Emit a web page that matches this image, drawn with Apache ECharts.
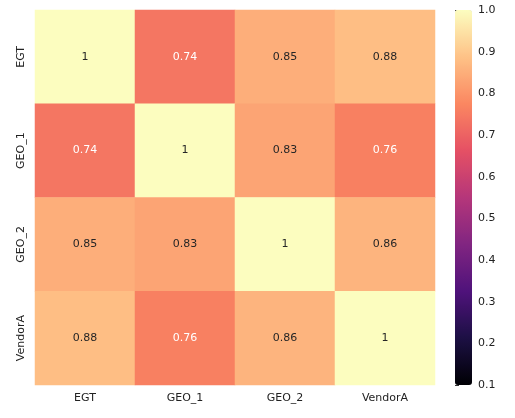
<!DOCTYPE html>
<html>
<head>
<meta charset="utf-8">
<script src="https://cdn.jsdelivr.net/npm/echarts@6/dist/echarts.min.js"></script>
<style>html,body{margin:0;padding:0;background:#fff}#c{width:515px;height:418px}</style>
</head>
<body>
<div id="c"></div>
<script>
var labels = ['EGT', 'GEO_1', 'GEO_2', 'VendorA']
var matrix = [
  [1, 0.74, 0.85, 0.88],
  [0.74, 1, 0.83, 0.76],
  [0.85, 0.83, 1, 0.86],
  [0.88, 0.76, 0.86, 1]
]
var barTicks = [0.1, 0.2, 0.3, 0.4, 0.5, 0.6, 0.7, 0.8, 0.9, 1.0]
var magma = ['#000004', '#1c1044', '#4f127b', '#812581', '#b5367a', '#e55064', '#fb8761', '#fec287', '#fcfdbf']

var cells = []
for (var i = 0; i < labels.length; i++) {
  for (var j = 0; j < labels.length; j++) {
    var v = matrix[i][j]
    cells.push({
      value: [j, i, v],
      label: { color: v < 0.8 ? '#ffffff' : '#262626' }
    })
  }
}

var font = 'DejaVu Sans'
var chart = echarts.init(document.getElementById('c'))
chart.setOption({
  animation: false,
  textStyle: { fontFamily: font },
  grid: [
    { left: 35, top: 10, width: 400, height: 375 },
    { left: 455, top: 10, width: 17, height: 375 }
  ],
  xAxis: [
    { type: 'category', data: labels, gridIndex: 0, axisLine: { show: false },
      axisTick: { length: 4, lineStyle: { color: '#333' }, alignWithLabel: true },
      axisLabel: { color: '#222', fontSize: 11, fontFamily: font, margin: 8 }, splitLine: { show: false } },
    { type: 'value', gridIndex: 1, show: false }
  ],
  yAxis: [
    { type: 'category', data: labels, inverse: true, gridIndex: 0, axisLine: { show: false },
      axisTick: { length: 4, lineStyle: { color: '#333' }, alignWithLabel: true },
      axisLabel: { color: '#222', fontSize: 11, fontFamily: font, rotate: 90, margin: 8 }, splitLine: { show: false } },
    { type: 'value', gridIndex: 1, position: 'right', min: 0.1, max: 1.0, interval: 0.1,
      axisLine: { show: false }, splitLine: { show: false },
      axisTick: { show: true, length: 4, lineStyle: { color: '#333' } },
      axisLabel: { color: '#222', fontSize: 11, fontFamily: font, margin: 6,
        formatter: function (v) { return v.toFixed(1) } } }
  ],
  visualMap: {
    type: 'continuous', min: 0.1, max: 1.0, seriesIndex: 0, calculable: false,
    left: 455, top: 10, itemWidth: 17, itemHeight: 375, padding: 0,
    text: null, showLabel: false, inRange: { color: magma }
  },
  series: [
    { type: 'heatmap', xAxisIndex: 0, yAxisIndex: 0, data: cells,
      label: { show: true, fontSize: 11, fontFamily: font,
        formatter: function (p) { return String(p.value[2]) } } },
    { type: 'line', xAxisIndex: 1, yAxisIndex: 1, data: [] }
  ]
})
</script>
</body>
</html>
